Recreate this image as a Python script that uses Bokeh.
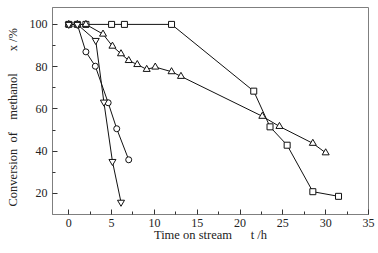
from bokeh.plotting import figure
from bokeh.models import Range1d, FixedTicker
from bokeh.embed import file_html
from bokeh.resources import INLINE

# Data (time on stream, h ; conversion of methanol, %)
sq_t = [0, 1, 2, 5, 6.5, 12, 21.6, 23.5, 25.5, 28.5, 31.5]
sq_x = [100, 100, 100, 100, 100, 100, 68.4, 51.5, 42.8, 20.8, 18.6]

tri_t = [0, 1, 2, 4, 5.1, 6.1, 7.0, 8.0, 9.1, 10.1, 12.0, 13.1, 22.6, 24.6, 28.5, 30.0]
tri_x = [100, 100, 100, 95.4, 89.7, 86.1, 82.9, 81.0, 78.7, 79.8, 77.6, 75.4, 56.5, 51.7, 43.7, 39.2]

cir_t = [0, 1, 2.0, 3.1, 4.6, 5.6, 7.0]
cir_x = [100, 100, 87.0, 80.2, 62.9, 50.6, 35.9]

inv_t = [0, 1, 3.15, 4.1, 5.1, 6.1]
inv_x = [100, 100, 92.4, 63.2, 35.1, 15.8]

x_ticks = [0, 5, 10, 15, 20, 25, 30, 35]
y_ticks = [20, 40, 60, 80, 100]

NB = "\u00a0"
x_title = "Time on stream" + NB * 6 + "t /h"
y_title = "Conversion" + NB * 2 + "of" + NB * 4 + "methanol" + NB * 7 + "x /%" + NB * 4

FONT = "Liberation Serif"

p = figure(width=378, height=253, output_backend="svg", toolbar_location=None,
           x_range=Range1d(-1.9, 35), y_range=Range1d(10, 108),
           min_border_left=52, min_border_right=10, min_border_top=7, min_border_bottom=39)
p.grid.visible = False
p.outline_line_color = "#7f7f7f"
p.outline_line_width = 1
p.background_fill_color = "white"
p.border_fill_color = "white"

for ax in (p.xaxis[0], p.yaxis[0]):
    ax.axis_line_color = "#7f7f7f"
    ax.major_tick_in = 5
    ax.major_tick_out = 0
    ax.minor_tick_in = 3
    ax.minor_tick_out = 0
    ax.major_tick_line_color = "#333333"
    ax.minor_tick_line_color = "#333333"
    ax.major_label_text_font = FONT
    ax.major_label_text_font_size = "12px"
    ax.major_label_text_color = "#222222"
    ax.axis_label_text_font = FONT
    ax.axis_label_text_font_size = "12.5px"
    ax.axis_label_text_font_style = "normal"
    ax.axis_label_text_color = "#222222"

p.xaxis[0].major_label_standoff = 4
p.yaxis[0].major_label_standoff = 5
p.xaxis[0].axis_label = x_title
p.xaxis[0].axis_label_standoff = -2
p.yaxis[0].axis_label = y_title
p.yaxis[0].axis_label_standoff = 7

p.xaxis[0].ticker = FixedTicker(ticks=x_ticks, minor_ticks=[2.5, 7.5, 12.5, 17.5, 22.5, 27.5, 32.5])
p.yaxis[0].ticker = FixedTicker(ticks=y_ticks, minor_ticks=[30, 50, 70, 90])

series = [
    (sq_t, sq_x, "square", 6),
    (tri_t, tri_x, "triangle", 7),
    (cir_t, cir_x, "circle", 6),
    (inv_t, inv_x, "inverted_triangle", 7),
]
for t, x, m, s in series:
    p.line(t, x, line_color="#111111", line_width=1)
for t, x, m, s in series:
    p.scatter(t, x, marker=m, size=s, fill_color="white", line_color="#111111", line_width=1)

open("out.html", "w").write(file_html(p, INLINE))
